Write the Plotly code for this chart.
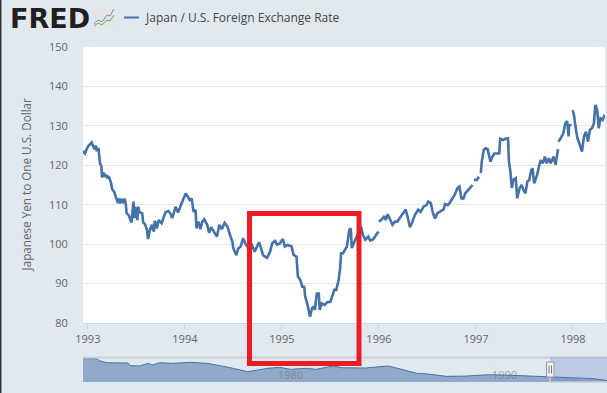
import plotly.graph_objects as go

# Japan / U.S. exchange rate, main chart (None = gap in the series)
years = [1992.95,1992.97,1992.98,1993.00,1993.02,1993.04,1993.05,1993.07,1993.08,1993.09,1993.11,1993.12,1993.125,1993.14,1993.145,1993.16,1993.17,1993.18,1993.20,1993.21,1993.22,1993.24,1993.25,1993.27,1993.28,1993.29,1993.31,1993.32,1993.33,1993.35,1993.36,1993.38,1993.39,1993.40,1993.42,1993.45,1993.47,1993.48,1993.49,1993.51,1993.52,1993.53,1993.56,1993.57,1993.59,1993.61,1993.62,1993.64,1993.66,1993.68,1993.69,1993.71,1993.73,1993.76,1993.78,1993.80,1993.83,1993.85,1993.87,
 1993.905,1993.93,1993.95,1993.98,1994.01,1994.03,1994.05,1994.07,1994.09,1994.11,1994.12,1994.14,1994.16,1994.18,1994.20,1994.23,1994.25,1994.27,1994.30,1994.33,1994.355,1994.38,1994.41,1994.44,1994.46,1994.49,1994.50,1994.53,1994.55,1994.575,1994.60,1994.63,1994.66,1994.69,1994.72,1994.764,1994.785,1994.805,1994.846,1994.877,
 1994.90,1994.93,1994.95,1994.98,1995.01,1995.03,1995.06,1995.08,1995.10,1995.12,1995.15,1995.165,1995.19,1995.21,1995.23,1995.24,1995.26,1995.29,1995.31,1995.33,1995.34,1995.36,1995.38,1995.39,1995.41,1995.44,1995.47,1995.50,1995.52,1995.54,1995.56,1995.585,1995.60,1995.61,1995.63,1995.65,1995.67,1995.695,1995.71,1995.72,1995.74,1995.76,1995.78,
 1995.815,1995.835,1995.86,1995.89,1995.91,1995.94,1995.97,1995.995,1995.997,1996.00,1996.03,1996.055,1996.07,1996.09,1996.11,1996.14,1996.165,1996.19,1996.22,1996.25,1996.275,1996.295,1996.32,1996.345,1996.37,1996.405,1996.43,1996.46,1996.49,1996.51,1996.535,1996.557,1996.58,1996.60,1996.63,1996.667,1996.68,1996.71,1996.73,1996.756,1996.78,1996.81,1996.83,1996.85,
 1996.87,1996.89,1996.92,1996.945,1996.965,1996.972,1996.98,1997.01,1997.03,1997.04,1997.05,1997.06,1997.08,1997.10,1997.12,1997.15,1997.17,1997.19,1997.22,1997.24,1997.25,1997.28,1997.30,1997.33,1997.34,1997.355,1997.37,1997.385,1997.41,1997.425,1997.45,1997.47,1997.49,1997.51,1997.53,1997.55,1997.57,1997.584,1997.60,
 1997.63,1997.65,1997.667,1997.69,1997.71,1997.73,1997.75,1997.77,1997.80,1997.82,1997.83,1997.846,1997.848,1997.85,1997.87,1997.90,1997.92,1997.94,1997.955,1997.96,1997.986,1997.99,1997.997,1998.01,1998.024,1998.045,1998.065,1998.093,1998.113,1998.134,1998.155,1998.175,1998.196,1998.216,1998.23,1998.25,1998.265,1998.285,1998.306,1998.327]
yen = [123.6,123.0,123.6,124.7,125.3,125.8,125.1,124.1,125.0,123.9,124.3,121.3,120.5,119.7,116.9,118.2,117.1,117.7,116.7,117.1,116.9,115.4,114.0,113.3,112.6,112.0,110.4,111.6,110.4,111.5,110.4,111.5,110.4,107.8,107.4,105.5,110.8,106.6,109.5,106.1,109.5,108.2,107.8,105.5,105.0,103.6,101.3,103.6,104.9,103.2,105.9,104.0,106.1,105.3,106.6,108.1,108.4,107.8,106.6,
 109.5,108.0,109.5,111.2,112.9,112.2,111.2,111.6,108.2,108.7,104.0,105.7,103.8,105.7,106.3,104.9,102.9,104.3,103.2,101.9,104.9,103.8,105.4,104.4,102.7,100.6,98.9,97.2,98.9,99.4,101.5,99.8,98.9,99.8,98.1,100.5,99.0,97.2,96.5,98.0,
 100.2,100.8,99.9,100.2,101.3,99.4,99.8,99.6,99.4,97.3,96.8,91.8,90.9,89.2,89.2,86.7,85.0,81.6,83.7,84.2,83.3,87.5,87.5,83.3,85.0,84.6,85.3,85.4,86.7,88.4,88.4,90.9,93.9,97.7,97.7,98.5,99.4,103.6,104.0,99.0,100.2,101.5,102.5,
 104.4,102.3,101.1,101.9,100.9,101.2,102.3,103.2,None,105.7,106.3,107.1,106.1,107.6,106.5,104.9,105.7,105.7,106.8,107.8,108.8,107.0,104.3,105.7,107.4,108.8,108.2,109.5,109.9,110.8,110.4,107.8,106.5,107.8,108.2,108.8,110.2,109.9,110.5,111.6,112.5,114.2,114.6,111.6,
 111.5,112.9,113.7,114.2,115.0,None,116.3,116.3,117.1,None,118.0,120.9,123.9,124.3,124.1,120.9,122.2,123.0,123.0,123.0,126.7,126.4,126.7,126.8,120.9,118.4,114.2,116.3,116.7,111.6,114.2,115.0,113.7,112.9,115.9,116.3,118.8,119.2,115.4,
 117.5,119.7,121.3,120.5,122.2,120.5,121.8,120.5,122.2,120.1,121.3,124.1,None,126.0,126.7,128.1,130.6,131.2,127.3,130.1,130.2,None,134.0,132.8,130.2,126.9,125.6,123.5,127.3,128.5,126.0,129.0,129.4,130.6,135.3,134.0,129.4,131.9,131.5,132.8]

# Navigator overview series
nav_years = [1971.0,1971.62,1971.76,1972.1,1973.1,1973.2,1973.65,1974.05,1974.23,1974.6,1975.2,1976.0,1976.8,1977.8,1978.7,1979.64,1980.18,1980.7,1981.45,1981.9,1982.7,1983.1,1984.2,1984.7,1985.26,1985.6,1986.17,1986.6,1987.1,1988.0,1988.9,1990.0,1991.07,1992.5,1992.9,1993.9,1994.9,1995.5]
nav_yen = [359,359,334,308,304,271,267,300,279,308,300,313,300,250,195,237,250,225,237,225,267,245,241,254,267,245,208,174,166,136,140,157,149,132,128,115,107,82]

y_ticks = [80,90,100,110,120,130,140,150]
x_ticks = [1993,1994,1995,1996,1997,1998]
x_labels = ["1993","1994","1995","1996","1997","1998"]
nav_ticks = [1980,1990]
series_name = "Japan / U.S. Foreign Exchange Rate"
y_title = "Japanese Yen to One U.S. Dollar"

W, H = 607, 393
BG = "#e1e9f0"
BLUE = "#4572a7"
FONT = "Open Sans"
GREY = "#666666"
px = lambda x: x / W
py = lambda y: 1 - y / H

def rect(x0, y0, x1, y1, fill="rgba(0,0,0,0)", line=None, width=0, layer="above"):
    return dict(type="rect", xref="paper", yref="paper", x0=px(x0), x1=px(x1), y0=py(y0), y1=py(y1),
                fillcolor=fill, line=dict(color=line or "rgba(0,0,0,0)", width=width), layer=layer)

def seg(x0, y0, x1, y1, color, width=1):
    return dict(type="line", xref="paper", yref="paper", x0=px(x0), x1=px(x1), y0=py(y0), y1=py(y1),
                line=dict(color=color, width=width), layer="above")

def poly(points, color, width=1):
    d = "M " + " L ".join(f"{px(a):.5f},{py(b):.5f}" for a, b in points)
    return dict(type="path", xref="paper", yref="paper", path=d, line=dict(color=color, width=width), layer="above")

fig = go.Figure()
fig.add_trace(go.Scatter(x=years, y=yen, mode="lines", line=dict(color=BLUE, width=2.6), connectgaps=False,
                         xaxis="x", yaxis="y", hoverinfo="skip", showlegend=False))
fig.add_trace(go.Scatter(x=nav_years, y=nav_yen, mode="lines", line=dict(color=BLUE, width=1), fill="tozeroy",
                         fillcolor="#92aac9", xaxis="x2", yaxis="y2", hoverinfo="skip", showlegend=False))

shapes = [
    rect(83, 357, 607, 382, fill=BG, layer="below"),
    rect(0, 0, 1.5, 393, fill="#333333"),
    seg(83, 357.5, 607, 357.5, "#cdd2d8", 2),
    rect(550, 357, 607, 382, fill="rgba(102,133,194,0.3)"),
    seg(550, 382, 607, 382, "#c8ccd2", 1.5),
    seg(550, 377, 550, 382, "#c8ccd2", 1.5),
    rect(546.5, 362, 554, 377, fill="#f2f2f2", line="#999999", width=1),
    seg(549, 365.5, 549, 373.5, "#777777", 1),
    seg(551.5, 365.5, 551.5, 373.5, "#777777", 1),
    seg(124, 17.5, 139, 17.5, BLUE, 2),
    rect(93, 8, 115, 28, fill="#e4e6e6"),
    poly([(94, 24), (98, 20), (102, 22), (107, 15), (110, 16), (114, 9)], "#6f93b5", 1),
    poly([(94, 26), (98, 23), (102, 25), (107, 20), (110, 21), (114, 15)], "#7ca560", 1),
    rect(249.5, 213.5, 359, 363.5, line="#ed1c24", width=5),
]

annotations = [
    dict(text=y_title, xref="paper", yref="paper", x=px(25.5), y=py(185), textangle=-90, showarrow=False,
         xanchor="center", yanchor="middle", font=dict(family=FONT, size=11.7, color=GREY)),
    dict(text=series_name, xref="paper", yref="paper", x=px(142.5), y=py(17.5), showarrow=False,
         xanchor="left", yanchor="middle", font=dict(family=FONT, size=12, color="#444444")),
    dict(text="<b>FRED</b>", xref="paper", yref="paper", x=px(8), y=py(18.5), showarrow=False,
         xanchor="left", yanchor="middle", font=dict(family="DejaVu Sans", size=27, color="#231f20")),
]
for t in nav_ticks:
    annotations.append(dict(text=str(t), xref="x2", yref="paper", x=t, xshift=0, y=py(374), showarrow=False,
                            xanchor="left", yanchor="middle", font=dict(family=FONT, size=11, color="rgba(110,110,110,0.6)")))

fig.update_layout(
    width=W, height=H, autosize=False, margin=dict(l=0, r=0, t=0, b=0, pad=0, autoexpand=False),
    paper_bgcolor=BG, plot_bgcolor="white", showlegend=False, shapes=shapes, annotations=annotations,
    font=dict(family=FONT, size=11, color=GREY),
    xaxis=dict(domain=[px(83), px(605)], range=[1992.95, 1998.33], tickmode="array", tickvals=x_ticks,
               ticktext=x_labels, ticks="outside", ticklen=6, tickcolor="#ccd6eb", showgrid=False,
               showline=True, linecolor="#ccd6eb", linewidth=1, zeroline=False, anchor="y", automargin=False,
               tickfont=dict(family=FONT, size=11, color=GREY)),
    yaxis=dict(domain=[py(323), py(47)], range=[80, 150], tickmode="array", tickvals=y_ticks,
               ticks="outside", ticklen=12, tickcolor="rgba(0,0,0,0)", gridcolor="#e6e6e6", gridwidth=1, automargin=False,
               zeroline=False, showline=False, anchor="x", tickfont=dict(family=FONT, size=11, color=GREY)),
    xaxis2=dict(domain=[px(83), 1], range=[1971, 1995.49], tickmode="array", tickvals=nav_ticks, showticklabels=False,
                ticks="", showgrid=True, gridcolor="#e6e6e6", zeroline=False, showline=False, anchor="y2", automargin=False),
    yaxis2=dict(domain=[py(382), py(357)], range=[65, 380], showticklabels=False, ticks="", showgrid=False,
                zeroline=False, showline=False, anchor="x2", automargin=False),
)
fig.write_html("out.html", config=dict(displayModeBar=False),
               post_script="document.body.style.margin='0';document.body.style.overflow='hidden';")
